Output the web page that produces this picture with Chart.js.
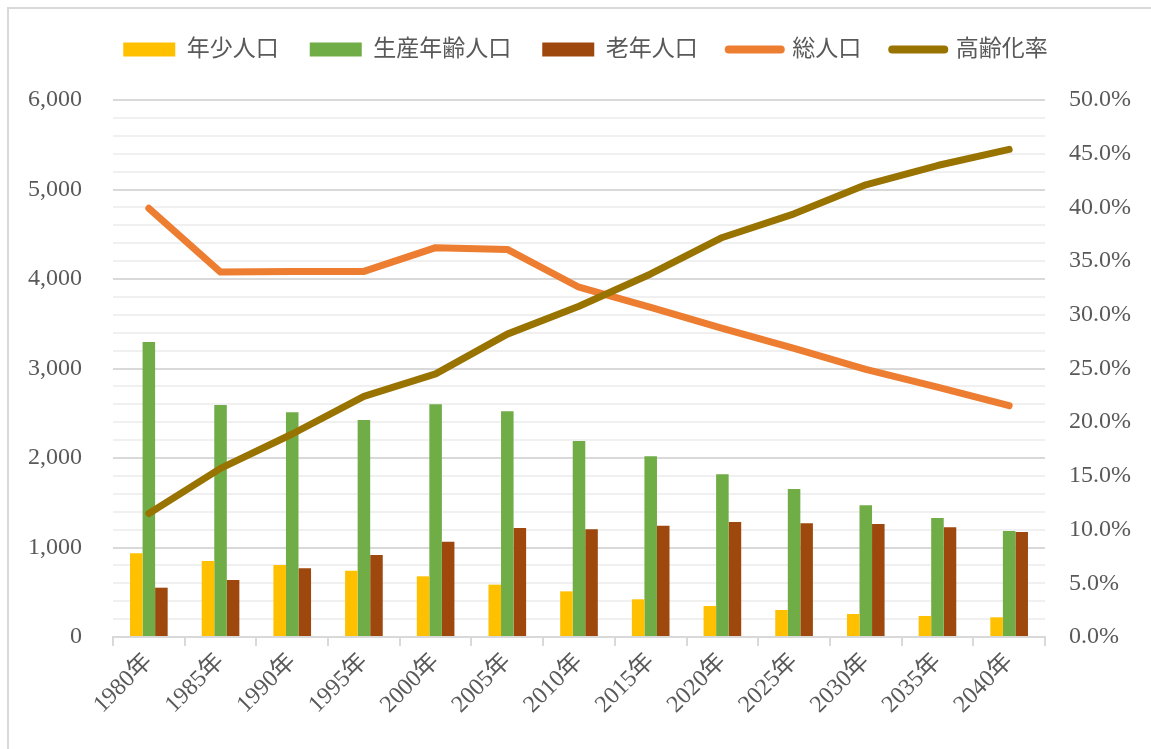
<!DOCTYPE html>
<html><head><meta charset="utf-8">
<script src="https://cdn.jsdelivr.net/npm/chart.js@4.4.1/dist/chart.umd.min.js"></script>
<style>
html,body{margin:0;padding:0;background:#fff;}
#wrap{position:relative;width:1151px;height:749px;overflow:hidden;background:#fff;}
#frame{position:absolute;left:7px;top:7px;width:2000px;height:2000px;border-left:2px solid #d9d9d9;border-top:2px solid #d9d9d9;}
canvas{position:absolute;left:0;top:0;}
</style></head><body>
<div id="wrap"><div id="frame"></div><canvas id="c" width="1151" height="749"></canvas></div>
<script>
const categories = ['1980年','1985年','1990年','1995年','2000年','2005年','2010年','2015年','2020年','2025年','2030年','2035年','2040年'];
const youth   = [935, 849, 804, 741, 678, 585, 510, 421, 346, 302, 257, 235, 220];
const working = [3296, 2592, 2511, 2425, 2600, 2522, 2190, 2019, 1818, 1654, 1471, 1330, 1184];
const elderly = [551, 637, 768, 916, 1065, 1218, 1203, 1244, 1285, 1270, 1263, 1226, 1173];
const total   = [4790, 4078, 4083, 4085, 4350, 4330, 3908, 3684, 3449, 3226, 2991, 2791, 2585];
const agingRate = [11.5, 15.7, 18.9, 22.4, 24.5, 28.2, 30.8, 33.8, 37.2, 39.4, 42.1, 43.9, 45.4];
const seriesNames = ['年少人口','生産年齢人口','老年人口','総人口','高齢化率'];
const leftTicks = [0, 6000, 1000, 200];
const rightTicks = [0, 50, 5];

const FONT = "'Liberation Serif', 'Noto Sans CJK JP', serif";
const TICK_COLOR = '#595959';
const colors = ['#FFC000', '#70AD47', '#9E480E', '#ED7D31', '#997300'];

const barDs = (i, data) => ({
  type: 'bar', label: seriesNames[i], data, backgroundColor: colors[i], borderWidth: 0,
  yAxisID: 'y', order: 2, barPercentage: 1.0, categoryPercentage: 0.525
});
const lineDs = (i, data, axis, order) => ({
  type: 'line', label: seriesNames[i], data, borderColor: colors[i], backgroundColor: colors[i],
  borderWidth: 7, pointRadius: 0, tension: 0, borderCapStyle: 'round', borderJoinStyle: 'round',
  yAxisID: axis, order
});

const legendGap = {
  id: 'legendGap',
  beforeInit(chart) {
    const lg = chart.legend;
    const fit = lg.fit;
    lg.fit = function () { fit.call(this); this.height += 29; };
    const draw = lg.draw;
    lg.draw = function () {
      const ctx = this.ctx;
      ctx.save(); ctx.translate(10, 0); draw.call(this); ctx.restore();
    };
  }
};

new Chart(document.getElementById('c'), {
  plugins: [legendGap],
  data: {
    labels: categories,
    datasets: [
      barDs(0, youth), barDs(1, working), barDs(2, elderly),
      lineDs(3, total, 'y', 1), lineDs(4, agingRate, 'y1', 0)
    ]
  },
  options: {
    responsive: false, animation: false,
    layout: { padding: { top: 7, left: 0, right: 0, bottom: 0 } },
    plugins: {
      tooltip: { enabled: false },
      legend: {
        position: 'top',
        labels: {
          usePointStyle: true, pointStyleWidth: 52, boxHeight: 14, padding: 31,
          color: TICK_COLOR, font: { family: FONT, size: 23 },
          generateLabels: (chart) => chart.data.datasets.map((ds, i) => ({
            text: ds.label, datasetIndex: i,
            fillStyle: colors[i], strokeStyle: colors[i],
            pointStyle: ds.type === 'line' ? 'line' : 'rect',
            lineWidth: ds.type === 'line' ? 8 : 0, lineCap: 'round', hidden: false,
            fontColor: TICK_COLOR
          }))
        }
      }
    },
    scales: {
      x: {
        offset: true,
        grid: { display: true, drawOnChartArea: false, drawTicks: true, tickLength: 9, color: '#d9d9d9', offset: true, lineWidth: 2 },
        border: { display: true, color: '#d9d9d9', width: 2 },
        ticks: { color: TICK_COLOR, font: { family: FONT, size: 24 }, minRotation: 45, maxRotation: 45, autoSkip: false, padding: 2 },
        afterFit: (s) => { s.height = 112; }
      },
      y: {
        position: 'left', min: leftTicks[0], max: leftTicks[1],
        grid: {
          drawTicks: false,
          color: (ctx) => (ctx.tick && ctx.tick.value % leftTicks[2] === 0) ? '#d9d9d9' : '#f0f0f0',
          lineWidth: 2
        },
        border: { display: false },
        ticks: {
          stepSize: leftTicks[3], autoSkip: false, padding: 31,
          color: TICK_COLOR, font: { family: FONT, size: 24 },
          callback: (v) => v % leftTicks[2] === 0 ? v.toLocaleString('en-US') : ''
        },
        afterFit: (s) => { s.width = 113; }
      },
      y1: {
        position: 'right', min: rightTicks[0], max: rightTicks[1],
        grid: { display: false, drawTicks: false },
        border: { display: false },
        ticks: {
          stepSize: rightTicks[2], autoSkip: false, padding: 24,
          color: TICK_COLOR, font: { family: FONT, size: 24 },
          callback: (v) => v.toFixed(1) + '%'
        },
        afterFit: (s) => { s.width = 106; }
      }
    }
  }
});
</script>
</body></html>
